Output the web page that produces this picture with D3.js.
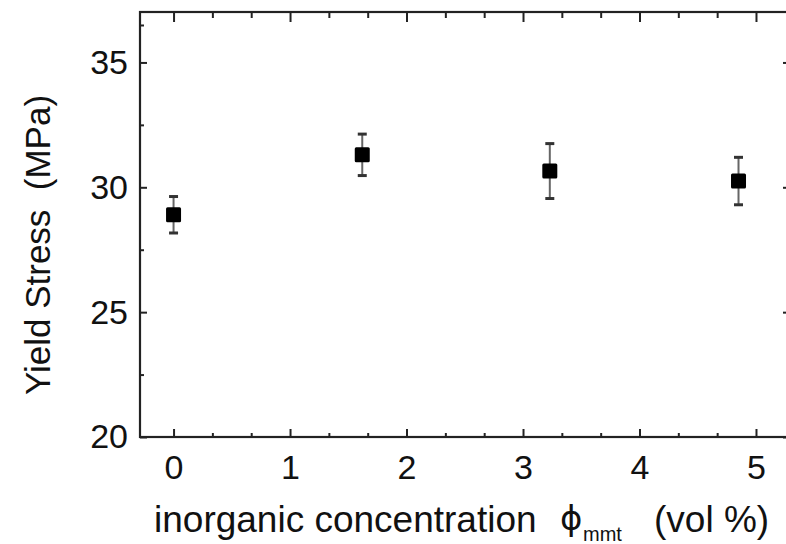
<!DOCTYPE html>
<html><head><meta charset="utf-8">
<script src="https://cdn.jsdelivr.net/npm/d3@7"></script>
<style>
html,body{margin:0;padding:0;background:#fff;}
svg{display:block;font-family:"Liberation Sans",Arial,sans-serif;}
</style></head>
<body>
<svg id="chart" width="786" height="544"></svg>
<script>
// Data
const concentration = [0, 1.62, 3.23, 4.85];
const yieldStress   = [28.9, 31.3, 30.65, 30.25];
const errorBar      = [0.73, 0.83, 1.1, 0.95];
const xTicks = [0, 1, 2, 3, 4, 5];
const yTicks = [20, 25, 30, 35];

const svg = d3.select("#chart");
const L = 140, R = 790, T = 12, B = 437;
const x = d3.scaleLinear().domain([-0.288, 5.292]).range([L, R]);
const y = d3.scaleLinear().domain([20, 37.02]).range([B, T]);

// minor ticks
const xMinor = d3.range(0, 5.3, 1/3).filter(v => Math.abs(v - Math.round(v)) > 0.01);
const yMinor = [22.5, 27.5, 32.5, 36.5];

// frame
svg.append("rect").attr("x", L).attr("y", T).attr("width", R - L).attr("height", B - T)
  .attr("fill", "none").attr("stroke", "#222").attr("stroke-width", 2.2);

function addAxis(axis, tx, ty) {
  const a = svg.append("g").attr("transform", `translate(${tx},${ty})`).call(axis);
  a.select(".domain").remove();
  return a;
}
addAxis(d3.axisBottom(x).tickValues(xTicks).tickSize(-8).tickPadding(18).tickFormat(d3.format("d")), 0, B);
addAxis(d3.axisBottom(x).tickValues(xMinor).tickSize(-4).tickFormat(""), 0, B);
addAxis(d3.axisTop(x).tickValues(xTicks).tickSize(-10).tickFormat(""), 0, T);
addAxis(d3.axisTop(x).tickValues(xMinor).tickSize(-6).tickFormat(""), 0, T);
addAxis(d3.axisLeft(y).tickValues(yTicks).tickSize(-7).tickPadding(12).tickFormat(d3.format("d")), L, 0);
addAxis(d3.axisLeft(y).tickValues(yMinor).tickSize(-4).tickFormat(""), L, 0);
addAxis(d3.axisRight(y).tickValues(yTicks).tickSize(-7).tickFormat(""), R, 0);

svg.selectAll(".tick line").attr("stroke", "#222").attr("stroke-width", 2);
svg.selectAll(".tick text").attr("fill", "#111").style("font-size", "34px")
  .style("font-family", "'Liberation Sans',Arial,sans-serif");

// error bars
const pts = concentration.map((c, i) => ({c, v: yieldStress[i], e: errorBar[i]}));
const eb = svg.append("g");
eb.selectAll("line.stem").data(pts).join("line").attr("class", "stem")
  .attr("x1", d => x(d.c)).attr("x2", d => x(d.c))
  .attr("y1", d => y(d.v + d.e)).attr("y2", d => y(d.v - d.e))
  .attr("stroke", "#666").attr("stroke-width", 2);
eb.selectAll("line.capt").data(pts).join("line").attr("class", "capt")
  .attr("x1", d => x(d.c) - 4.5).attr("x2", d => x(d.c) + 4.5)
  .attr("y1", d => y(d.v + d.e)).attr("y2", d => y(d.v + d.e))
  .attr("stroke", "#333").attr("stroke-width", 3);
eb.selectAll("line.capb").data(pts).join("line").attr("class", "capb")
  .attr("x1", d => x(d.c) - 4.5).attr("x2", d => x(d.c) + 4.5)
  .attr("y1", d => y(d.v - d.e)).attr("y2", d => y(d.v - d.e))
  .attr("stroke", "#333").attr("stroke-width", 3);
// markers
const ms = 15;
svg.append("g").selectAll("rect").data(pts).join("rect")
  .attr("x", d => x(d.c) - ms/2).attr("y", d => y(d.v) - ms/2)
  .attr("width", ms).attr("height", ms).attr("rx", 1.5)
  .attr("fill", "#000");

// axis titles
svg.append("text")
  .attr("transform", "translate(50,245) rotate(-90)")
  .attr("text-anchor", "middle")
  .style("font-size", "35px").attr("fill", "#111")
  .attr("xml:space", "preserve")
  .text("Yield Stress  (MPa)");

const tstyle = s => s.style("font-size", "37px").attr("fill", "#111");
tstyle(svg.append("text").attr("x", 154).attr("y", 532)).text("inorganic concentration");
svg.append("text").attr("x", 560).attr("y", 530)
  .style("font-family", "'DejaVu Sans',sans-serif").style("font-size", "34px").attr("fill", "#111").text("ϕ");
svg.append("text").attr("x", 583).attr("y", 541)
  .style("font-size", "20px").attr("fill", "#111").text("mmt");
tstyle(svg.append("text").attr("x", 654).attr("y", 532)).text("(vol %)");
</script>
</body></html>
